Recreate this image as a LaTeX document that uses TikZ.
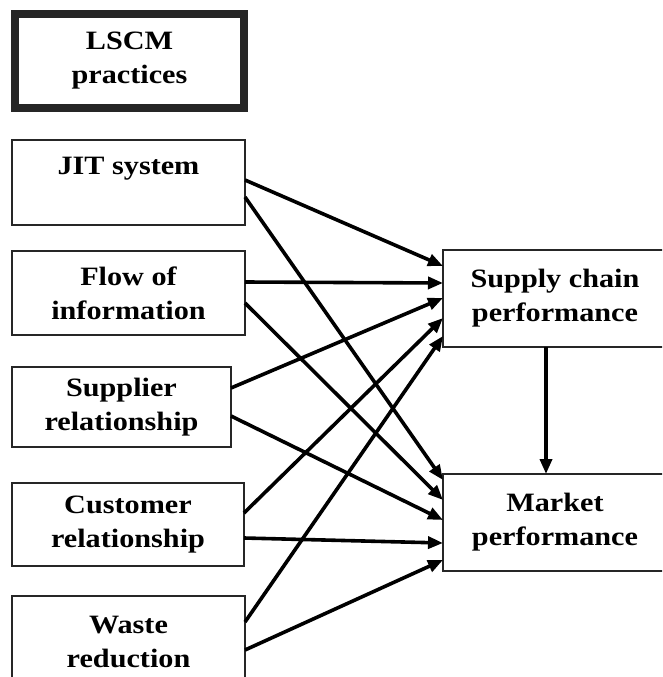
\documentclass[tikz,border=0pt]{standalone}
\usepackage{fontspec}
\setmainfont{Liberation Serif}[FakeStretch=1.14]
\usetikzlibrary{arrows.meta,calc}

\tikzset{
  box/.style={draw=black!85, line width=2.4pt, inner sep=0pt, outer sep=0pt,
    align=center, font=\fontsize{26.5}{34}\selectfont\bfseries},
  headbox/.style={box, line width=8pt},
  link/.style={line width=3.6pt, -{Triangle[length=15pt,width=12pt]}},
}

\begin{document}
\begin{tikzpicture}[x=1pt, y={(0pt,-1pt)}]
  \useasboundingbox (0,0) rectangle (662,677);
  \clip (0,0) rectangle (662,677);
  \fill[white] (0,0) rectangle (662,677);

  % heading
  \node[headbox, minimum width=229pt, minimum height=94pt] (lscm) at (129.5,61) {LSCM\\practices};

  % practices
  \node[box, minimum width=233pt, minimum height=85pt] (jit) at (128.5,182.5) {JIT system\\\mbox{}};
  \node[box, minimum width=233pt, minimum height=84pt] (flow) at (128.5,293) {Flow of\\information};
  \node[box, minimum width=219pt, minimum height=80pt] (sup) at (121.5,407) {Supplier\\relationship};
  \node[box, minimum width=232pt, minimum height=83pt] (cus) at (128,524.5) {Customer\\relationship};
  \node[box, minimum width=233pt, minimum height=92pt] (waste) at (128.5,642) {Waste\\reduction};

  % outcomes (right side runs past the frame)
  \node[box, minimum width=224pt, minimum height=97pt] (scp) at (555,298.5) {Supply chain\\performance};
  \node[box, minimum width=224pt, minimum height=97pt] (mkt) at (555,522.5) {Market\\performance};

  % links to supply chain performance
  \draw[link] ($(jit.east)+(0,-2.5)$)   -- ($(scp.west)+(0,-32.5)$);
  \draw[link] ($(flow.east)+(0,-11)$)   -- ($(scp.west)+(0,-15.5)$);
  \draw[link] ($(sup.east)+(0,-19)$)    -- ($(scp.west)+(0,-0.5)$);
  \draw[link] ($(cus.east)+(0,-11.5)$)  -- ($(scp.west)+(0,19.5)$);
  \draw[link] ($(waste.east)+(0,-20)$)  -- ($(scp.west)+(0,37.5)$);

  % links to market performance
  \draw[link] ($(jit.east)+(0,14.5)$)   -- ($(mkt.west)+(0,-42.5)$);
  \draw[link] ($(flow.east)+(0,10)$)    -- ($(mkt.west)+(0,-22.5)$);
  \draw[link] ($(sup.east)+(0,9)$)      -- ($(mkt.west)+(0,-2.5)$);
  \draw[link] ($(cus.east)+(0,13.5)$)   -- ($(mkt.west)+(0,20.5)$);
  \draw[link] ($(waste.east)+(0,8)$)    -- ($(mkt.west)+(0,37.5)$);

  % supply chain performance drives market performance
  \draw[link] (scp.south -| 546,0) -- (mkt.north -| 546,0);
\end{tikzpicture}
\end{document}
